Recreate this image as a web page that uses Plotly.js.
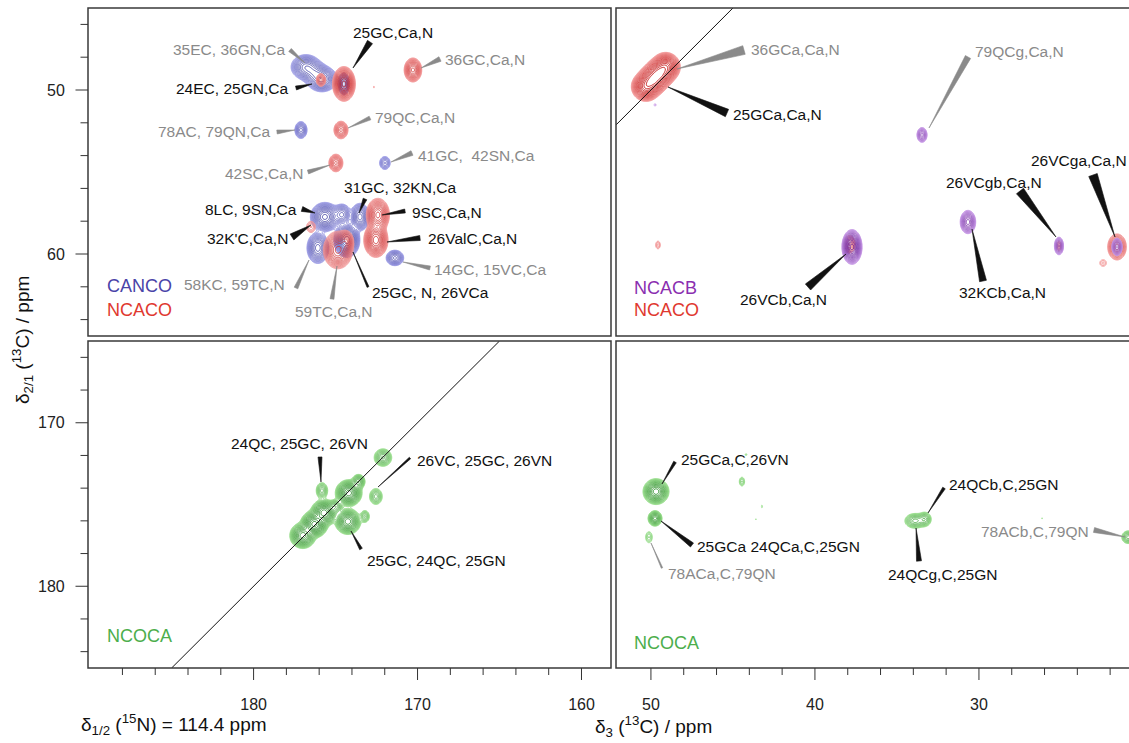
<!DOCTYPE html>
<html><head><meta charset="utf-8">
<script src="https://cdn.plot.ly/plotly-3.0.1.min.js"></script>
<style>html,body{margin:0;padding:0;background:#fff}#chart{width:1129px;height:743px}</style>
</head><body><div id="chart"></div>
<script>
// ---------- peak tables (ppm) ----------
// CANCO (top-left)
const cancoX   = [176.81,176.30,175.83,174.49,177.11,171.99,175.65,174.61,173.51,176.08,174.31,171.38];
const cancoY   = [48.60, 48.95, 49.33, 49.63, 52.44, 54.45, 57.74, 57.60, 57.74, 59.63, 59.15, 60.24];
const cancoAmp = [1.0,   0.7,   1.2,   0.8,   0.5,   0.3,   1.5,   0.6,   1.0,   1.0,   2.0,   0.6];
const cancoWx  = [0.38,  0.35,  0.38,  0.15,  0.18,  0.18,  0.35,  0.25,  0.25,  0.28,  0.30,  0.25];
const cancoWy  = [0.32,  0.30,  0.32,  0.30,  0.25,  0.22,  0.35,  0.30,  0.35,  0.40,  0.40,  0.22];
// NCACO (top-left)
const ncacoX   = [175.89,174.49,170.28,172.66,174.67,174.98,176.50,174.86,174.37,172.42,172.54];
const ncacoY   = [49.39, 49.63, 48.78, 49.82, 52.44, 54.45, 58.35, 59.76, 59.27, 57.62, 59.15];
const ncacoAmp = [0.4,   3.0,   1.2,   0.07,  0.6,   0.6,   0.15,  1.5,   0.8,   1.5,   2.0];
const ncacoWx  = [0.15,  0.25,  0.22,  0.05,  0.20,  0.20,  0.20,  0.35,  0.20,  0.28,  0.28];
const ncacoWy  = [0.20,  0.38,  0.30,  0.10,  0.25,  0.25,  0.25,  0.45,  0.30,  0.40,  0.40];
// NCACO (top-right)
const ncaco2X   = [50.30,49.90,49.50,49.10,49.57,22.43,21.58,37.90,25.12];
const ncaco2Y   = [49.80,49.40,49.00,48.60,59.45,60.55,59.57,59.40,59.51];
const ncaco2Amp = [3.0,  4.0,  4.0,  3.0,  0.12, 0.10, 0.8,  0.3,  0.2];
const ncaco2Wx  = [0.32, 0.32, 0.32, 0.32, 0.12, 0.20, 0.25, 0.20, 0.10];
const ncaco2Wy  = [0.32, 0.32, 0.32, 0.32, 0.20, 0.20, 0.35, 0.30, 0.20];
// NCACB (top-right)
const ncacbX   = [33.47,37.74,30.67,25.12,21.58,49.75];
const ncacbY   = [52.74,59.57,58.05,59.51,59.57,50.91];
const ncacbAmp = [0.5,  3.0,  1.0,  0.6,  0.6,  0.08];
const ncacbWx  = [0.15, 0.22, 0.20, 0.13, 0.15, 0.10];
const ncacbWy  = [0.22, 0.38, 0.30, 0.25, 0.25, 0.08];
// NCOCA (bottom-left)
const ncocaX   = [172.11,175.83,174.20,173.60,174.98,175.70,176.30,177.00,174.25,173.21,172.54];
const ncocaY   = [172.13,174.15,174.30,173.60,175.12,175.50,176.20,176.90,176.04,175.73,174.51];
const ncocaAmp = [0.6,   0.4,   2.5,   0.7,   0.5,   2.5,   3.0,   2.0,   2.0,   0.3,   0.4];
const ncocaWx  = [0.25,  0.18,  0.30,  0.18,  0.20,  0.30,  0.30,  0.30,  0.30,  0.15,  0.20];
const ncocaWy  = [0.25,  0.25,  0.30,  0.20,  0.20,  0.30,  0.30,  0.30,  0.30,  0.20,  0.25];
// NCOCA (bottom-right)
const ncoca2X   = [49.69,49.75,50.12,44.20,44.45,43.23,43.60,33.90,33.30,26.15,20.90];
const ncoca2Y   = [174.21,175.85,177.00,171.95,173.60,175.12,175.91,176.00,175.90,175.85,177.00];
const ncoca2Amp = [2.0,  1.0,  0.15, 0.08, 0.15, 0.08, 0.07, 0.5,  0.4,  0.07, 0.4];
const ncoca2Wx  = [0.30, 0.18, 0.15, 0.08, 0.12, 0.05, 0.05, 0.30, 0.20, 0.05, 0.20];
const ncoca2Wy  = [0.30, 0.20, 0.25, 0.08, 0.20, 0.12, 0.08, 0.22, 0.22, 0.08, 0.20];

// axis ranges and tick labels
const xRangeN = [190.1, 158.2];
const xRangeC = [52.13, 20.85];
const yRangeTop = [65, 45];
const yRangeBot = [185, 165];
const xTicksN = [180, 170, 160];
const xTicksC = [50, 40, 30];
const yTicksTop = [50, 60];
const yTicksBot = [170, 180];

// ---------- styling ----------
const FONT = 'Liberation Sans, Arial, Helvetica, sans-serif';
const L0 = Math.log10(0.06), L1 = Math.log10(5), LS = Math.log10(1.25);
const BLUE = ['#9a9ae6', '#22228a'];
const RED = ['#f49a9a', '#c00c0c'];
const PURP = ['#c99be8', '#5e0f8f'];
const GREEN = ['#9be08e', '#107a10'];

function contourTrace(px, py, pa, wx, wy, colors, xa, ya, step) {
  let x0 = Infinity, x1 = -Infinity, y0 = Infinity, y1 = -Infinity;
  for (let i = 0; i < px.length; i++) {
    x0 = Math.min(x0, px[i] - 4 * wx[i]); x1 = Math.max(x1, px[i] + 4 * wx[i]);
    y0 = Math.min(y0, py[i] - 4 * wy[i]); y1 = Math.max(y1, py[i] + 4 * wy[i]);
  }
  const xs = [], ys = [];
  for (let x = x0; x <= x1; x += step) xs.push(x);
  for (let y = y0; y <= y1; y += step) ys.push(y);
  const z = ys.map(y => xs.map(x => {
    let s = 1e-6;
    for (let i = 0; i < px.length; i++) {
      const dx = (x - px[i]) / wx[i], dy = (y - py[i]) / wy[i];
      const e = 0.5 * (dx * dx + dy * dy);
      if (e < 30) s += pa[i] * Math.exp(-e);
    }
    return Math.log10(s);
  }));
  return {
    type: 'contour', x: xs, y: ys, z: z, xaxis: xa, yaxis: ya,
    showscale: false, hoverinfo: 'skip', autocontour: false,
    contours: { coloring: 'lines', start: L0, end: L1, size: LS },
    line: { width: 0.9, smoothing: 1 },
    colorscale: [[0, colors[0]], [1, colors[1]]], zmin: L0, zmax: L1
  };
}

function diag(xr, yr, xa, ya) {
  const lo = Math.max(Math.min(...xr), Math.min(...yr));
  const hi = Math.min(Math.max(...xr), Math.max(...yr));
  return { type: 'scatter', mode: 'lines', x: [lo, hi], y: [lo, hi], xaxis: xa, yaxis: ya,
    line: { color: '#111', width: 1 }, hoverinfo: 'skip', showlegend: false };
}

const traces = [
  diag(xRangeC, yRangeTop, 'x2', 'y2'),
  diag(xRangeN, yRangeBot, 'x3', 'y3'),
  contourTrace(cancoX, cancoY, cancoAmp, cancoWx, cancoWy, BLUE, 'x', 'y', 0.04),
  contourTrace(ncacoX, ncacoY, ncacoAmp, ncacoWx, ncacoWy, RED, 'x', 'y', 0.04),
  contourTrace(ncaco2X, ncaco2Y, ncaco2Amp, ncaco2Wx, ncaco2Wy, RED, 'x2', 'y2', 0.05),
  contourTrace(ncacbX, ncacbY, ncacbAmp, ncacbWx, ncacbWy, PURP, 'x2', 'y2', 0.05),
  contourTrace(ncocaX, ncocaY, ncocaAmp, ncocaWx, ncocaWy, GREEN, 'x3', 'y3', 0.04),
  contourTrace(ncoca2X, ncoca2Y, ncoca2Amp, ncoca2Wx, ncoca2Wy, GREEN, 'x4', 'y4', 0.05)
];

// ---------- page geometry (pixels) ----------
const ML = 88, MT = 8, PW = 1041, PH = 660;
const PX = p => (p - ML) / PW;
const PY = p => (MT + PH - p) / PH;

// labels: text, colour, anchor, x, y, pointer base x, y, tip x, y, base width
const labels = [
  ['35EC, 36GN,Ca','g','right',287,49, 290,50, 305,63, 4],
  ['24EC, 25GN,Ca','k','right',290,88, 296,88, 312,84, 4],
  ['25GC,Ca,N','k','center',393,33, 370,42, 353,68, 6],
  ['36GC,Ca,N','g','left',443,59, 440,59, 421,68, 5],
  ['78AC, 79QN,Ca','g','right',272,131, 277,132, 295,130, 4],
  ['79QC,Ca,N','g','left',373,118, 370,118, 348,128, 4],
  ['42SC,Ca,N','g','right',305,173, 308,172, 330,165, 4],
  ['41GC,  42SN,Ca','g','left',416,155, 412,153, 391,162, 5],
  ['31GC, 32KN,Ca','k','center',400,187, 365,199, 359,213, 4],
  ['8LC, 9SN,Ca','k','right',299,209, 302,209, 315,213, 5],
  ["32K'C,Ca,N",'k','right',290,238, 292,237, 311,225, 7],
  ['9SC,Ca,N','k','left',410,212, 405,211, 382,215, 4],
  ['26ValC,Ca,N','k','left',426,239, 420,238, 387,242, 5],
  ['14GC, 15VC,Ca','g','left',432,269, 430,268, 403,262, 4],
  ['25GC, N, 26VCa','k','left',370,293, 368,287, 353,252, 2],
  ['58KC, 59TC,N','g','right',287,284, 296,288, 309,260, 4],
  ['59TC,Ca,N','g','center',334,311, 332,299, 337,266, 4],
  ['36GCa,Ca,N','g','left',749,50, 744,50, 677,69, 9],
  ['25GCa,Ca,N','k','left',731,114, 727,113, 668,87, 8],
  ['79QCg,Ca,N','g','left',973,51, 968,57, 929,128, 6],
  ['26VCga,Ca,N','k','center',1079,160, 1093,175, 1115,237, 9],
  ['26VCgb,Ca,N','k','center',994,182, 1020,191, 1056,237, 9],
  ['32KCb,Ca,N','k','center',1002,292, 983,281, 972,229, 7],
  ['26VCb,Ca,N','k','center',783,299, 808,287, 846,254, 8],
  ['24QC, 25GC, 26VN','k','center',299,443, 320,457, 321,482, 4],
  ['26VC, 25GC, 26VN','k','left',415,460, 410,458, 378,487, 2],
  ['25GC, 24QC, 25GN','k','left',365,560, 361,549, 351,531, 3],
  ['25GCa,C,26VN','k','left',679,459, 675,462, 662,484, 3],
  ['25GCa 24QCa,C,25GN','k','left',695,546, 692,545, 661,521, 5],
  ['78ACa,C,79QN','g','left',666,573, 662,568, 651,543, 1.5],
  ['24QCb,C,25GN','k','left',947,484, 944,488, 928,513, 3],
  ['24QCg,C,25GN','k','center',942,574, 919,561, 916,528, 5],
  ['78ACb,C,79QN','g','left',979,531, 1094,530, 1125,537, 5]
];
const legendTexts = [
  ['CANCO', '#4a44a8', 105, 286], ['NCACO', '#e0392f', 105, 310],
  ['NCACB', '#8a2fb0', 632, 288], ['NCACO', '#e0392f', 632, 310],
  ['NCOCA', '#4cae4c', 105, 636], ['NCOCA', '#4cae4c', 632, 643]
];
const COL = { k: '#111111', g: '#8a8a8a' };

const annotations = [], shapes = [];
labels.forEach(l => {
  const [t, c, anc, x, y, bx, by, tx, ty, w] = l;
  annotations.push({ text: t, xref: 'paper', yref: 'paper', x: PX(x), y: PY(y),
    xanchor: anc, yanchor: 'middle', showarrow: false,
    font: { family: FONT, size: 15.5, color: COL[c] } });
  const dx = tx - bx, dy = ty - by, len = Math.hypot(dx, dy);
  const nx = -dy / len * w / 2, ny = dx / len * w / 2;
  const pts = [[bx + nx, by + ny], [tx, ty], [bx - nx, by - ny]];
  const path = 'M' + pts.map(p => PX(p[0]).toFixed(5) + ',' + PY(p[1]).toFixed(5)).join(' L') + ' Z';
  shapes.push({ type: 'path', xref: 'paper', yref: 'paper', path: path,
    fillcolor: COL[c], line: { color: COL[c], width: 0.6 } });
});
legendTexts.forEach(l => {
  annotations.push({ text: l[0], xref: 'paper', yref: 'paper', x: PX(l[2]), y: PY(l[3]),
    xanchor: 'left', yanchor: 'middle', showarrow: false,
    font: { family: FONT, size: 18, color: l[1] } });
});
// axis titles
annotations.push({ text: 'δ<sub>2/1</sub> (<sup>13</sup>C) / ppm', xref: 'paper', yref: 'paper',
  x: PX(22), y: PY(340), textangle: -90, showarrow: false, xanchor: 'center', yanchor: 'middle',
  font: { family: FONT, size: 19, color: '#111' } });
annotations.push({ text: 'δ<sub>1/2</sub> (<sup>15</sup>N) = 114.4 ppm', xref: 'paper', yref: 'paper',
  x: PX(174), y: PY(724), showarrow: false, xanchor: 'center', yanchor: 'middle',
  font: { family: FONT, size: 19, color: '#111' } });
annotations.push({ text: 'δ<sub>3</sub> (<sup>13</sup>C) / ppm', xref: 'paper', yref: 'paper',
  x: PX(653), y: PY(726), showarrow: false, xanchor: 'center', yanchor: 'middle',
  font: { family: FONT, size: 19, color: '#111' } });

// panel frames
[[88, 8, 611, 336], [616, 8, 1140, 336], [88, 341, 611, 668], [616, 341, 1140, 668]].forEach(r => {
  shapes.push({ type: 'rect', xref: 'paper', yref: 'paper', x0: PX(r[0]), x1: PX(r[2]),
    y0: PY(r[3]), y1: PY(r[1]), line: { color: '#3a3a3a', width: 1.5 }, layer: 'above' });
});

// tick marks (major every 10, minor every 2) drawn as arrow-only annotations outside the frames
function tickMark(xp, yp, ax, ay) {
  annotations.push({ text: ' ', xref: 'paper', yref: 'paper', x: PX(xp), y: PY(yp),
    showarrow: true, arrowhead: 0, arrowwidth: 1, arrowcolor: '#333', ax: ax, ay: ay,
    standoff: 0, startstandoff: 0, borderpad: 0, font: { size: 1, color: 'rgba(0,0,0,0)' } });
}
function addXTicks(range, majors, pxLeft, pxWidth, baseY) {
  const lo = Math.min(...range) + 0.3, hi = Math.max(...range) - 0.3;
  for (let v = Math.ceil(lo / 2) * 2; v <= hi; v += 2) {
    const len = majors.includes(v) ? 12 : 7;
    const p = pxLeft + (v - range[0]) / (range[1] - range[0]) * pxWidth;
    tickMark(p, baseY, 0, len + 1);
  }
}
function addYTicks(axis, range, majors, pxTop, pxHeight, baseX) {
  const lo = Math.min(...range) + 0.3, hi = Math.max(...range) - 0.3;
  for (let v = Math.ceil(lo / 2) * 2; v <= hi; v += 2) {
    const len = majors.includes(v) ? 12 : 7;
    const p = pxTop + (range[1] - v) / (range[1] - range[0]) * pxHeight;
    tickMark(baseX, p, -(len + 1), 0);
  }
  majors.forEach(v => annotations.push({ text: String(v), xref: 'paper', yref: axis,
    x: PX(67), y: v, xanchor: 'right', yanchor: 'middle', showarrow: false,
    font: { family: FONT, size: 16, color: '#222' } }));
}
addXTicks(xRangeN, xTicksN, 88, 523, 668);
addXTicks(xRangeC, xTicksC, 616, 513, 668);
addYTicks('y', yRangeTop, yTicksTop, 8, 328, 88);
addYTicks('y3', yRangeBot, yTicksBot, 341, 327, 88);

const dxL = [0, 523 / PW], dxR = [528 / PW, 1];
const dyT = [(668 - 336) / PH, 1], dyB = [0, (668 - 341) / PH];
const tickFont = { family: FONT, size: 16, color: '#222' };
const hidden = { showticklabels: false, ticks: '', showgrid: false, zeroline: false };
function xTickAx(vals) {
  return { ticks: 'outside', ticklen: 12, tickcolor: 'rgba(0,0,0,0)', tickmode: 'array', tickvals: vals,
    ticklabelstandoff: 10, tickfont: tickFont, showgrid: false, zeroline: false };
}

const layout = {
  width: 1129, height: 743, margin: { l: ML, r: 0, t: MT, b: 743 - MT - PH },
  paper_bgcolor: '#fff', plot_bgcolor: '#fff', showlegend: false,
  font: { family: FONT },
  xaxis: Object.assign({}, hidden, { domain: dxL, range: xRangeN, anchor: 'y' }),
  yaxis: Object.assign({}, hidden, { domain: dyT, range: yRangeTop, anchor: 'x' }),
  xaxis2: Object.assign({}, hidden, { domain: dxR, range: xRangeC, anchor: 'y2' }),
  yaxis2: Object.assign({}, hidden, { domain: dyT, range: yRangeTop, anchor: 'x2' }),
  xaxis3: Object.assign({}, xTickAx(xTicksN), { domain: dxL, range: xRangeN, anchor: 'y3' }),
  yaxis3: Object.assign({}, hidden, { domain: dyB, range: yRangeBot, anchor: 'x3' }),
  xaxis4: Object.assign({}, xTickAx(xTicksC), { domain: dxR, range: xRangeC, anchor: 'y4' }),
  yaxis4: Object.assign({}, hidden, { domain: dyB, range: yRangeBot, anchor: 'x4' }),
  annotations: annotations, shapes: shapes
};
Plotly.newPlot('chart', traces, layout, { displayModeBar: false, staticPlot: true });
</script></body></html>
